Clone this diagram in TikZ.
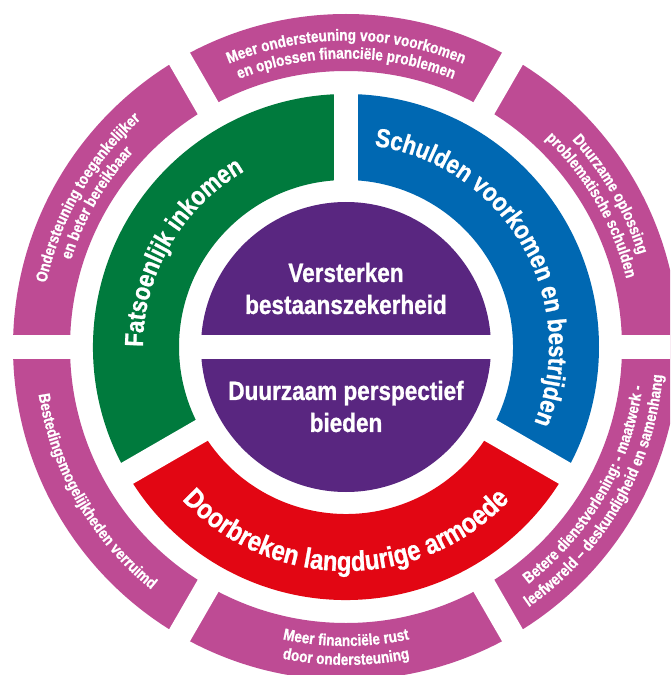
\documentclass[tikz,border=0pt]{standalone}
\usepackage{fontspec}
\usepackage{xcolor}
\usetikzlibrary{decorations.text}

\newfontfamily\condfont{Liberation Sans Bold}[FakeStretch=0.85, FakeBold=0.9]
\definecolor{ringpink}{RGB}{190,75,148}
\definecolor{incomegreen}{RGB}{0,122,61}
\definecolor{debtblue}{RGB}{0,104,178}
\definecolor{povertyred}{RGB}{226,6,19}
\definecolor{corepurple}{RGB}{89,38,128}
\newcommand\pinkfont{\condfont\fontsize{16}{18}\selectfont}
\newcommand\bandfont{\condfont\fontsize{26}{30}\selectfont}
\newcommand\redbandfont{\condfont\fontsize{28}{32}\selectfont}
\newcommand\corefont{\condfont\fontsize{26.5}{32}\selectfont}

\tikzset{
  gap/.style={white, line width=24pt},
  arctext/.style={decorate, decoration={text along path, text align=center, text color=white, text={#1}}},
  coretext/.style={text=white, align=center, font=\corefont, inner sep=0pt}
}

\begin{document}
\begin{tikzpicture}
\useasboundingbox (-346pt,-328pt) rectangle (324pt,347pt);
\clip (-346pt,-328pt) rectangle (324pt,347pt);
\fill[white] (-346pt,-328pt) rectangle (324pt,347pt);

% outer ring, six parts
\fill[ringpink, even odd rule] (0,0) circle[radius=333pt] circle[radius=276pt];
\foreach \a in {0,60,...,300}
  \draw[gap] (\a:265pt) -- (\a:345pt);

% middle ring, three parts
\fill[incomegreen] (90:167pt) arc[start angle=90, end angle=210, radius=167pt]
  -- (210:253pt) arc[start angle=210, end angle=90, radius=253pt] -- cycle;
\fill[povertyred] (210:167pt) arc[start angle=210, end angle=330, radius=167pt]
  -- (330:253pt) arc[start angle=330, end angle=210, radius=253pt] -- cycle;
\fill[debtblue] (-30:167pt) arc[start angle=-30, end angle=90, radius=167pt]
  -- (90:253pt) arc[start angle=90, end angle=-30, radius=253pt] -- cycle;
\foreach \a in {90,210,330}
  \draw[gap] (\a:158pt) -- (\a:262pt);

% core
\fill[corepurple] (0,0) circle[radius=145pt];
\draw[gap] (-152pt,0) -- (152pt,0);

\node[coretext] (versterken) at (0pt,58.5pt) {Versterken\\bestaanszekerheid};
\node[coretext] (duurzaam) at (0pt,-59.5pt) {Duurzaam perspectief\\bieden};

% middle ring labels
\path[arctext={|\bandfont|Fatsoenlijk inkomen}] (210:203pt) arc[start angle=210, end angle=90, radius=203pt];
\path[arctext={|\bandfont|Schulden voorkomen en bestrijden}] (90:203pt) arc[start angle=90, end angle=-30, radius=203pt];
\path[arctext={|\redbandfont|Doorbreken langdurige armoede}] (210:224pt) arc[start angle=210, end angle=330, radius=224pt];

% outer ring labels, upper half
\path[arctext={|\pinkfont|Meer ondersteuning voor voorkomen}] (125:306.5pt) arc[start angle=125, end angle=55, radius=306.5pt];
\path[arctext={|\pinkfont|en oplossen financiële problemen}] (125:288.5pt) arc[start angle=125, end angle=55, radius=288.5pt];
\path[arctext={|\pinkfont|Duurzame oplossing}] (65:306.5pt) arc[start angle=65, end angle=-5, radius=306.5pt];
\path[arctext={|\pinkfont|problematische schulden}] (65:288.5pt) arc[start angle=65, end angle=-5, radius=288.5pt];
\path[arctext={|\pinkfont|Ondersteuning toegankelijker}] (185:306.5pt) arc[start angle=185, end angle=115, radius=306.5pt];
\path[arctext={|\pinkfont|en beter bereikbaar}] (185:288.5pt) arc[start angle=185, end angle=115, radius=288.5pt];

% outer ring labels, lower half
\path[arctext={|\pinkfont|Bestedingsmogelijkheden verruimd}] (175:311pt) arc[start angle=175, end angle=245, radius=311pt];
\path[arctext={|\pinkfont|Meer financiële rust}] (235:299pt) arc[start angle=235, end angle=305, radius=299pt];
\path[arctext={|\pinkfont|door ondersteuning}] (235:318pt) arc[start angle=235, end angle=305, radius=318pt];
\path[arctext={|\pinkfont|Betere dienstverlening: - maatwerk -}] (295:299pt) arc[start angle=295, end angle=365, radius=299pt];
\path[arctext={|\pinkfont|leefwereld – deskundigheid en samenhang}] (295:318pt) arc[start angle=295, end angle=365, radius=318pt];
\end{tikzpicture}
\end{document}
